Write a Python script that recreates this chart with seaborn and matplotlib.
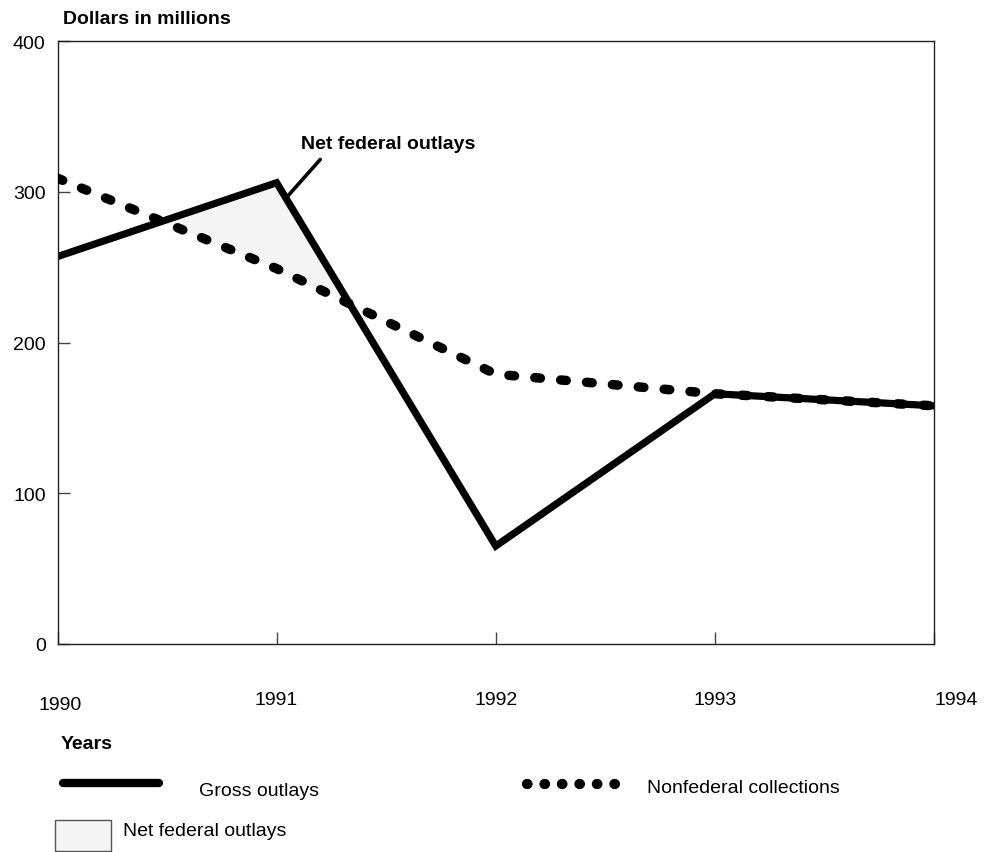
import numpy as np
import pandas as pd
import matplotlib
matplotlib.use("Agg")
import matplotlib.pyplot as plt
import matplotlib.transforms as mtransforms
from matplotlib.lines import Line2D
from matplotlib.patches import Rectangle
import seaborn as sns

# Data
years = [1990, 1991, 1992, 1993, 1994]
gross_outlays = [257, 306, 65, 166, 158]
nonfederal_collections = [309, 249, 179, 166, 158]
y_ticks = [0, 100, 200, 300, 400]

df = pd.DataFrame({"year": years, "gross": gross_outlays, "nonfed": nonfederal_collections})

sns.set_style("white")
plt.rcParams["font.family"] = ["Liberation Sans", "DejaVu Sans"]
plt.rcParams["text.color"] = "black"

W, H = 996, 853
fig = plt.figure(figsize=(W / 100, H / 100), dpi=100)
ax = fig.add_axes([57.5 / W, (H - 645) / H, (934 - 57.5) / W, (645 - 42) / H])

# shaded area where gross outlays exceed nonfederal collections
g = np.array(gross_outlays, dtype=float)
n = np.array(nonfederal_collections, dtype=float)
ax.fill_between(years, g, n, where=g >= n, interpolate=True,
                color="#f4f4f4", linewidth=0, zorder=1)

sns.lineplot(data=df, x="year", y="nonfed", ax=ax, color="black", lw=6.8,
             linestyle=(0, (0.6, 2.15)), dash_capstyle="round", zorder=3)
sns.lineplot(data=df, x="year", y="gross", ax=ax, color="black", lw=5.2,
             solid_joinstyle="miter", zorder=2)

ax.set_xlim(1990, 1994)
ax.set_ylim(0, 400)
ax.set_xticks(years)
ax.set_xticklabels([str(y) for y in years])
ax.set_yticks(y_ticks)
ax.set_xlabel("")
ax.set_ylabel("")

for sp in ax.spines.values():
    sp.set_visible(True)
    sp.set_color("#222222")
    sp.set_linewidth(1.0)
ax.tick_params(axis="both", direction="in", length=8.6, width=1.0,
               color="#444444", labelsize=14, labelcolor="black",
               bottom=True, left=True, top=False, right=False)
ax.tick_params(axis="y", pad=8.5)
ax.tick_params(axis="x", pad=34)

# small irregular offsets of the first and last year labels
labels = ax.get_xticklabels()
labels[0].set_transform(labels[0].get_transform() +
                        mtransforms.ScaledTranslation(0.03, -0.05, fig.dpi_scale_trans))
labels[-1].set_transform(labels[-1].get_transform() +
                         mtransforms.ScaledTranslation(0.22, 0, fig.dpi_scale_trans))

ax.annotate("Net federal outlays", xy=(1991.047, 296.5), xytext=(1991.11, 332),
            fontsize=14, fontweight="bold", ha="left", va="center", color="black",
            arrowprops=dict(arrowstyle="-", lw=2.6, color="black",
                            relpos=(0.15, 0), shrinkA=4, shrinkB=0))

fig.text(63 / W, 1 - 20 / H, "Dollars in millions", fontsize=14,
         fontweight="bold", ha="left", va="center", color="black")

# legend drawn in figure pixels
def fx(px):
    return px / W

def fy(py):
    return 1 - py / H

fig.text(fx(61), fy(745), "Years", fontsize=14, fontweight="bold", ha="left", va="center")
fig.add_artist(Line2D([fx(63), fx(159)], [fy(784), fy(784)], color="black",
                      lw=6, solid_capstyle="round"))
fig.text(fx(199), fy(792), "Gross outlays", fontsize=14, ha="left", va="center")
fig.add_artist(Line2D([fx(527), fx(616)], [fy(785), fy(785)], color="black",
                      lw=7.4, linestyle=(0, (0.05, 1.65)), dash_capstyle="round"))
fig.text(fx(647), fy(789), "Nonfederal collections", fontsize=14, ha="left", va="center")
fig.add_artist(Rectangle((fx(55), fy(852)), fx(111) - fx(55), fy(821) - fy(852),
                         transform=fig.transFigure, facecolor="#f4f4f4",
                         edgecolor="#555555", lw=1.0))
fig.text(fx(123), fy(832), "Net federal outlays", fontsize=14, ha="left", va="center")

fig.savefig("out.png", dpi=100)
